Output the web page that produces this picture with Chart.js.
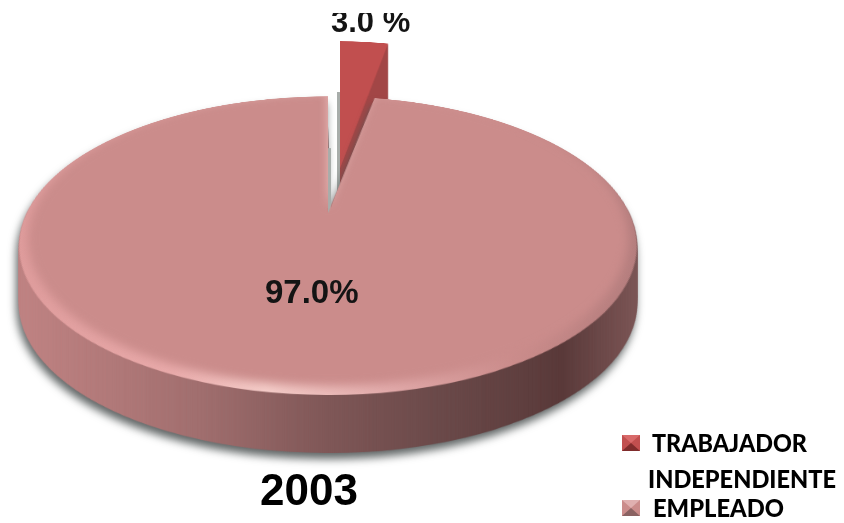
<!DOCTYPE html>
<html>
<head>
<meta charset="utf-8">
<style>
  html, body { margin: 0; padding: 0; background: #fff; }
  canvas { display: block; }
</style>
<script src="https://cdn.jsdelivr.net/npm/chart.js@4/dist/chart.umd.min.js"></script>
</head>
<body>
<canvas id="pieChart" width="844" height="523"></canvas>
<script>
var categories = [ "TRABAJADOR INDEPENDIENTE", "EMPLEADO" ];
var legendLines = [ [ "TRABAJADOR", "INDEPENDIENTE" ], [ "EMPLEADO" ] ];
var values = [ 3.0, 97.0 ];
var valueLabels = [ "3.0 %", "97.0%" ];
var sliceColors = [ "#c14f4f", "#cb8c8b" ];
var yearLabel = "2003";

var W = 844, H = 523;

// how the flat pie is laid on its side: centre, radii and perspective
var mainView = { cx: 328, cy: 213, sx: 301.6, sy: 142.4, k: 0.2175 };
var sliceView = { cx: 340, cy: 168, sx: 257, sy: 127, k: 0 };
var mainDepth = 58, sliceDepth = 55;

function layer() {
    var c = document.createElement( "canvas" );
    c.width = W;
    c.height = H;
    return c;
}

function hGradient( ctx, stops ) {
    var g = ctx.createLinearGradient( 18, 0, 636, 0 );
    stops.forEach( function ( s ) { g.addColorStop( s[ 0 ], s[ 1 ] ); } );
    return g;
}

// flat arc element -> tilted image, one row at a time
function tilt( el, view ) {
    var flat = layer();
    el.draw( flat.getContext( "2d" ) );
    var out = layer(), c = out.getContext( "2d" );
    var R = el.outerRadius;
    for ( var y = 0; y < H; y++ ) {
        var yy = y - view.cy;
        var den = view.sy + view.k * yy;
        if ( den <= 0 ) continue;
        var v = yy / den;
        if ( Math.abs( v ) > 1.01 ) continue;
        var w = ( 2 * R + 4 ) * view.sx / ( 1 - view.k * v ) / R;
        c.drawImage( flat, el.x - R - 2, el.y + v * R, 2 * R + 4, 1, view.cx - w / 2, y, w, 1 );
    }
    return out;
}

function tint( img, fill ) {
    var out = layer(), c = out.getContext( "2d" );
    c.drawImage( img, 0, 0 );
    c.globalCompositeOperation = "source-atop";
    c.fillStyle = fill;
    c.fillRect( 0, 0, W, H );
    return out;
}

var pie3d = {
    id: "pie3d",
    beforeDatasetsDraw: function ( chart ) {
        var ctx = chart.ctx;
        var arcs = chart.getDatasetMeta( 0 ).data;
        var slice = tilt( arcs[ 0 ], sliceView );
        var main = tilt( arcs[ 1 ], mainView );
        var i;

        // exploded slice, behind everything else
        ctx.save();
        ctx.drawImage( tint( slice, "#a8adaa" ), -3, 51 );
        var sliceSide = tint( slice, "#a24646" );
        for ( i = sliceDepth; i > 0; i-- ) ctx.drawImage( sliceSide, 0, i );
        ctx.drawImage( slice, 0, 0 );

        // side wall of the big slice
        var wall = layer(), wc = wall.getContext( "2d" );
        var side = tint( main, hGradient( wc, [
            [ 0, "#c08383" ], [ 0.14, "#b27a7a" ], [ 0.3, "#a06e6e" ], [ 0.5, "#7f5757" ],
            [ 0.68, "#6b4a4a" ], [ 0.88, "#5a3a3a" ], [ 1, "#7c5656" ]
        ] ) );
        for ( i = mainDepth; i > 0; i-- ) wc.drawImage( side, 0, i );
        ctx.shadowColor = "rgba(80,85,85,0.9)";
        ctx.shadowBlur = 8;
        ctx.shadowOffsetX = -2;
        ctx.shadowOffsetY = 6;
        ctx.drawImage( wall, 0, 0 );
        ctx.shadowColor = "transparent";
        ctx.shadowBlur = ctx.shadowOffsetX = ctx.shadowOffsetY = 0;

        // grey line seen down the gap
        ctx.save();
        ctx.beginPath();
        ctx.rect( mainView.cx, 0, 3, mainView.cy );
        ctx.clip();
        ctx.drawImage( tint( main, "#a8adaa" ), 3, 52 );
        ctx.restore();

        // top face with the light rim along the front edge
        var top = layer(), tc = top.getContext( "2d" );
        tc.drawImage( main, 0, 0 );
        tc.globalCompositeOperation = "source-atop";
        tc.fillStyle = hGradient( tc, [
            [ 0, "#df9c9c" ], [ 0.25, "#e9aaaa" ], [ 0.4, "#f5cdc9" ], [ 0.6, "#e2aaaa" ],
            [ 0.8, "#cb8c8b" ], [ 1, "#b47d7d" ]
        ] );
        tc.fillRect( 0, 0, W, H );
        tc.filter = "blur(5px)";
        tc.translate( 327, 245 );
        tc.scale( 0.972, 0.985 );
        tc.translate( -327, -252 );
        tc.drawImage( main, 0, 0 );
        ctx.drawImage( top, 0, 0 );
        ctx.restore();
        return false;
    },
    afterDraw: function ( chart ) {
        var ctx = chart.ctx;
        ctx.save();
        ctx.fillStyle = "#141414";
        ctx.textBaseline = "alphabetic";

        ctx.font = "bold 33px 'Liberation Sans'";
        ctx.fillText( valueLabels[ 1 ], 265, 303 );

        ctx.save();
        ctx.beginPath();
        ctx.rect( 300, 13, 140, 30 );
        ctx.clip();
        ctx.font = "bold 31px 'Liberation Sans'";
        ctx.fillText( valueLabels[ 0 ], 331, 32 );
        ctx.restore();

        ctx.fillStyle = "#000";
        ctx.font = "bold 44px 'Liberation Sans'";
        ctx.fillText( yearLabel, 260, 505 );

        ctx.font = "900 24px Lato";
        ctx.fillText( legendLines[ 0 ][ 0 ], 652, 452, 155 );
        ctx.fillText( legendLines[ 0 ][ 1 ], 648, 488, 188 );
        ctx.fillText( legendLines[ 1 ][ 0 ], 653, 517, 131 );

        legendKey( ctx, 622, 435, sliceColors[ 0 ], "#7f2c2c", "#d86a6a" );
        legendKey( ctx, 622, 500, sliceColors[ 1 ], "#8a6262", "#e0b0b0" );
        ctx.restore();
    }
};

// small bevelled square of the legend
function legendKey( ctx, x, y, color, dark, light ) {
    var w = 18, h = 16;
    ctx.fillStyle = color;
    ctx.fillRect( x, y, w, h );
    ctx.fillStyle = dark;
    ctx.beginPath();
    ctx.moveTo( x, y + h );
    ctx.lineTo( x + w / 2, y + h / 2 );
    ctx.lineTo( x + w, y + h );
    ctx.closePath();
    ctx.fill();
    ctx.fillStyle = light;
    ctx.beginPath();
    ctx.moveTo( x, y );
    ctx.lineTo( x + w / 2, y + h / 2 );
    ctx.lineTo( x + w, y );
    ctx.closePath();
    ctx.fill();
}

new Chart( document.getElementById( "pieChart" ), {
    type: "pie",
    data: {
        labels: categories,
        datasets: [ {
            data: values,
            backgroundColor: sliceColors,
            borderWidth: 0
        } ]
    },
    options: {
        responsive: false,
        animation: false,
        layout: { padding: 0 },
        plugins: {
            legend: { display: false },
            title: { display: false },
            tooltip: { enabled: false }
        }
    },
    plugins: [ pie3d ]
} );
</script>
</body>
</html>
